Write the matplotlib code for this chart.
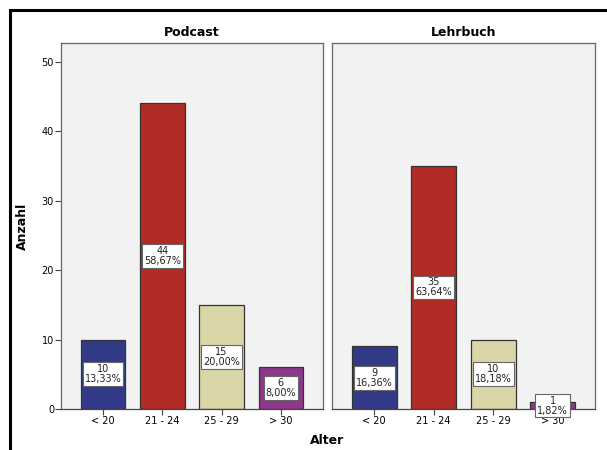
import matplotlib
matplotlib.use("Agg")
import matplotlib.pyplot as plt
from matplotlib.lines import Line2D

categories = ["< 20", "21 - 24", "25 - 29", "> 30"]
panels = ["Podcast", "Lehrbuch"]
podcast_counts = [10, 44, 15, 6]
podcast_pct = ["13,33%", "58,67%", "20,00%", "8,00%"]
lehrbuch_counts = [9, 35, 10, 1]
lehrbuch_pct = ["16,36%", "63,64%", "18,18%", "1,82%"]
yticks = [0, 10, 20, 30, 40, 50]

colors = ["#323A87", "#B22C26", "#DAD6A8", "#8E378C"]

fig = plt.figure(figsize=(6.07, 4.5), dpi=100)
fig.patch.set_facecolor("white")

ax1 = fig.add_axes([61/607, 1-409/450, 262/607, 366/450])
ax2 = fig.add_axes([332/607, 1-409/450, 263/607, 366/450])

data = [(podcast_counts, podcast_pct), (lehrbuch_counts, lehrbuch_pct)]
for ax, title, (counts, pct) in zip([ax1, ax2], panels, data):
    ax.set_facecolor("#F2F2F2")
    x = list(range(len(categories)))
    ax.bar(x, counts, width=0.75, color=colors, edgecolor="#333333", linewidth=0.9, zorder=2)
    for xi, c, p in zip(x, counts, pct):
        ax.text(xi, c / 2, f"{c}\n{p}", ha="center", va="center", fontsize=7,
                linespacing=1.0, zorder=3, color="#222222",
                bbox=dict(boxstyle="square,pad=0.2", facecolor="white", edgecolor="#666666", linewidth=0.8))
    ax.set_xlim(-0.71, 3.71)
    ax.set_ylim(0, 52.7)
    ax.set_xticks(x)
    ax.set_xticklabels(categories, fontsize=7)
    ax.tick_params(axis="x", length=4, width=0.8, color="#444444", pad=1)
    for s in ax.spines.values():
        s.set_color("#666666")
        s.set_linewidth(0.9)
    ax.spines["bottom"].set_color("#444444")
    ax.set_title(title, fontsize=9, fontweight="bold", pad=5)

ax1.set_yticks(yticks)
ax1.set_yticklabels([str(v) for v in yticks], fontsize=7)
ax1.tick_params(axis="y", length=4, width=0.8, color="#444444", pad=1)
ax2.set_yticks([])

fig.text(22/607, 1-226/450, "Anzahl", rotation=90, ha="center", va="center", fontsize=9, fontweight="bold")
fig.text(327/607, 1-440/450, "Alter", ha="center", va="center", fontsize=9, fontweight="bold")

# frame lines of the screenshot
fig.add_artist(Line2D([10/607, 1.0], [1-10/450, 1-10/450], color="black", linewidth=2.2, transform=fig.transFigure))
fig.add_artist(Line2D([10/607, 10/607], [0.0, 1-10/450], color="black", linewidth=2.2, transform=fig.transFigure))

fig.savefig("out.png", dpi=100)
